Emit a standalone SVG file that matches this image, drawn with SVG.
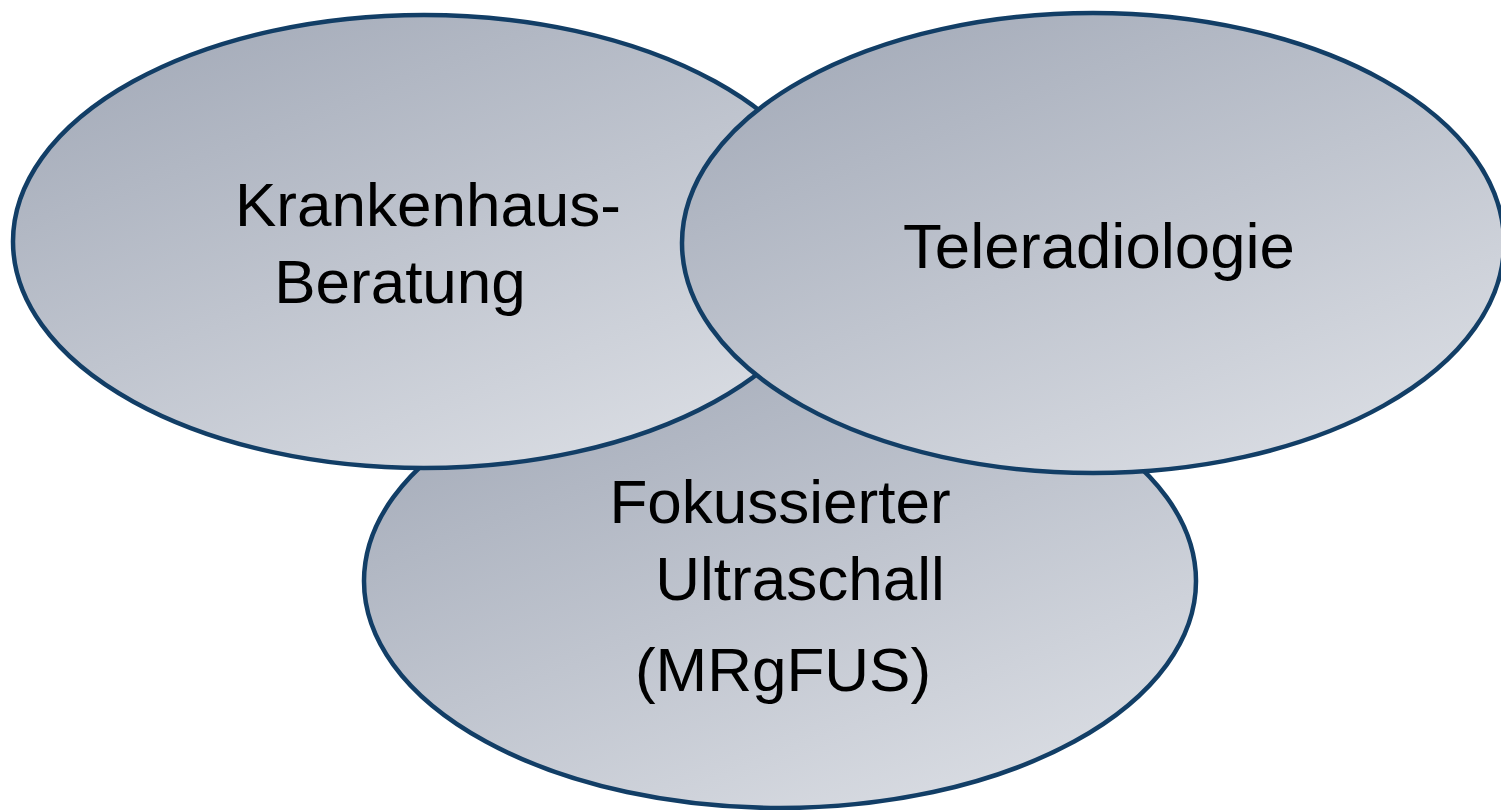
<svg xmlns="http://www.w3.org/2000/svg" width="1501" height="810" viewBox="0 0 1501 810">
<defs>
<linearGradient id="g" x1="0.15" y1="0" x2="0.85" y2="1">
<stop offset="0" stop-color="#a3aab8"/>
<stop offset="1" stop-color="#dcdfe5"/>
</linearGradient>
<style>
.e{fill:url(#g);stroke:#123e66;stroke-width:4.5}
.t{font-family:"Liberation Sans",Arial,sans-serif;font-size:62px;fill:#000;text-anchor:middle}
</style>
</defs>
<rect width="1501" height="810" fill="#fff"/>
<g id="node-mrgfus">
<ellipse class="e" cx="780" cy="581" rx="416" ry="227"/>
<text class="t" x="780" y="523">Fokussierter</text>
<text class="t" x="800" y="600">Ultraschall</text>
<text class="t" x="783" y="691">(MRgFUS)</text>
</g>
<g id="node-krankenhaus">
<ellipse class="e" cx="424" cy="241.5" rx="411" ry="226.5"/>
<text class="t" x="428" y="226">Krankenhaus-</text>
<text class="t" x="400" y="303">Beratung</text>
</g>
<g id="node-teleradiologie">
<ellipse class="e" cx="1093" cy="243" rx="411" ry="230"/>
<text class="t" x="1099" y="268" style="font-size:63.5px">Teleradiologie</text>
</g>
<g id="connectors"/>
</svg>
